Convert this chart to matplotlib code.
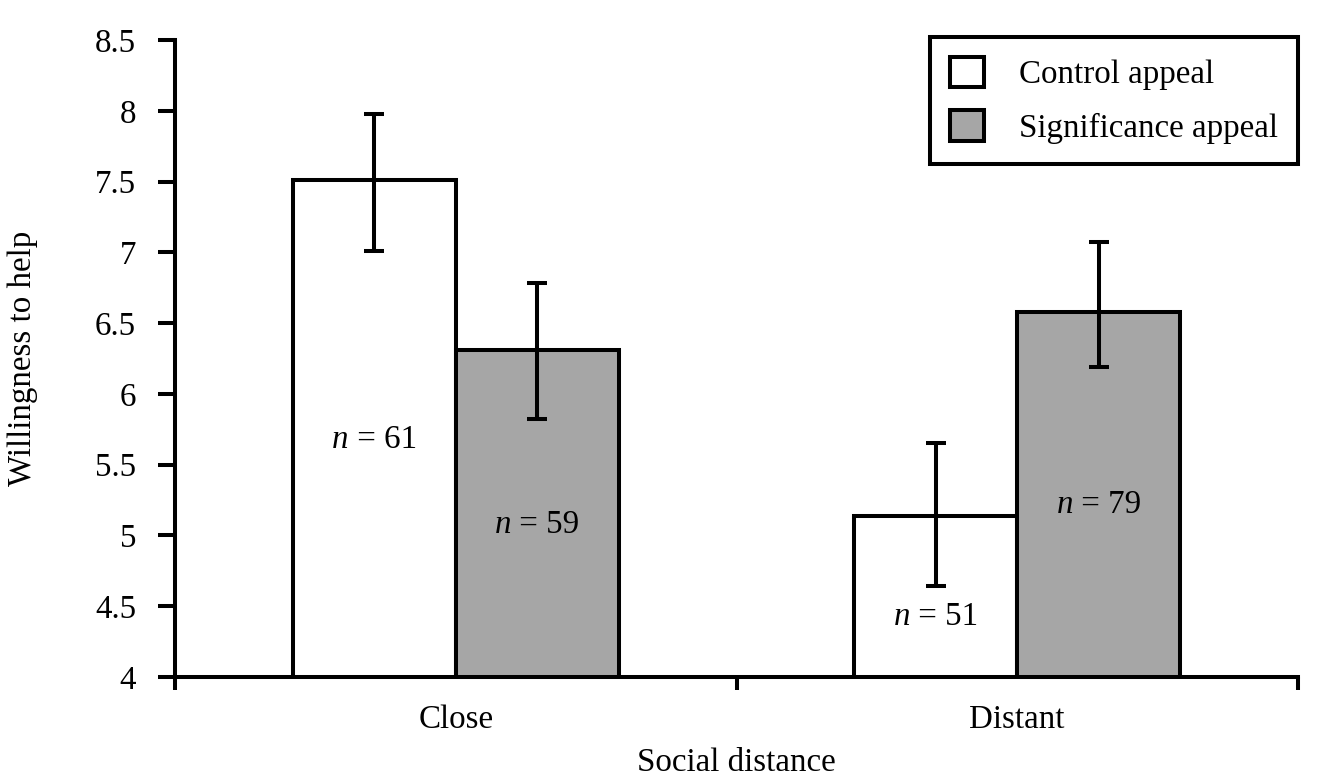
import matplotlib
matplotlib.use("Agg")
import matplotlib.pyplot as plt
import matplotlib.transforms as mtransforms
import numpy as np

categories = ["Close", "Distant"]
series_names = ["Control appeal", "Significance appeal"]
control_means = [7.51, 5.14]
control_upper = [7.98, 5.65]
control_lower = [7.01, 4.64]
signif_means = [6.31, 6.58]
signif_upper = [6.78, 7.07]
signif_lower = [5.82, 6.19]
control_n = ["61", "51"]
signif_n = ["59", "79"]
control_label_y = [5.695, 4.45]
signif_label_y = [5.095, 5.24]
y_ticks = [4, 4.5, 5, 5.5, 6, 6.5, 7, 7.5, 8, 8.5]
y_tick_labels = ["4", "4.5", "5", "5.5", "6", "6.5", "7", "7.5", "8", "8.5"]

plt.rcParams['font.family'] = ['Liberation Serif', 'DejaVu Serif']

FS = 23.8
LW = 2.9
fig = plt.figure(figsize=(13.23, 7.83), dpi=100)
ax = fig.add_axes([175/1323, 1-677/783, (1298-175)/1323, (677-40)/783])

x = np.arange(len(categories)) + 0.5
w = 0.29
c_err = [np.array(control_means) - np.array(control_lower), np.array(control_upper) - np.array(control_means)]
s_err = [np.array(signif_means) - np.array(signif_lower), np.array(signif_upper) - np.array(signif_means)]

ax.bar(x - w/2, control_means, w, color='white', edgecolor='black', linewidth=LW,
       label=series_names[0], zorder=2)
ax.bar(x + w/2, signif_means, w, color='#a6a6a6', edgecolor='black', linewidth=LW,
       label=series_names[1], zorder=2)
ax.errorbar(x - w/2, control_means, yerr=c_err, fmt='none', ecolor='black', elinewidth=LW,
            capsize=7.5, capthick=LW, zorder=3)
ax.errorbar(x + w/2, signif_means, yerr=s_err, fmt='none', ecolor='black', elinewidth=LW,
            capsize=7.5, capthick=LW, zorder=3)

shift = mtransforms.ScaledTranslation(6/72, 0, fig.dpi_scale_trans)


def n_label(xc, yc, num):
    t = ax.text(xc, yc, ' = ' + num, ha='center', va='baseline', fontsize=FS, zorder=4,
                transform=ax.transData + shift)
    ax.annotate('n', xy=(0, 0), xycoords=t, ha='right', va='bottom', fontsize=FS,
                fontstyle='italic', zorder=4)


for xi, n, yy in zip(x - w/2, control_n, control_label_y):
    n_label(xi, yy - 0.08, n)
for xi, n, yy in zip(x + w/2, signif_n, signif_label_y):
    n_label(xi, yy - 0.08, n)

ax.set_ylim(4, 8.5)
ax.set_xlim(0, 2)
ax.set_yticks(y_ticks)
ax.set_yticklabels(y_tick_labels)
ax.set_xticks([0, 1, 2])
ax.set_xticklabels([])
ax.set_xticks(x, minor=True)
ax.set_xticklabels(categories, minor=True)
ax.tick_params(axis='x', which='minor', length=0, pad=20, labelsize=FS)
ax.tick_params(axis='x', which='major', length=9, width=LW, direction='out')
ax.tick_params(axis='y', length=12, width=LW, direction='out', pad=16, labelsize=FS)

for s in ['top', 'right']:
    ax.spines[s].set_visible(False)
for s in ['left', 'bottom']:
    ax.spines[s].set_linewidth(LW)

ax.set_ylabel("Willingness to help", fontsize=FS, labelpad=41)
ax.set_xlabel("Social distance", fontsize=FS, labelpad=9)

leg = ax.legend(loc='upper right', bbox_to_anchor=(1.0, 1.005), fontsize=FS, frameon=True,
                fancybox=False, edgecolor='black', handlelength=1.05, handleheight=1.05,
                handletextpad=1.05, borderpad=0.6, labelspacing=0.6, borderaxespad=0)
leg.get_frame().set_linewidth(LW)
leg.get_frame().set_alpha(1)
for p in leg.get_patches():
    p.set_linewidth(LW)

fig.savefig("out.png", dpi=100)
